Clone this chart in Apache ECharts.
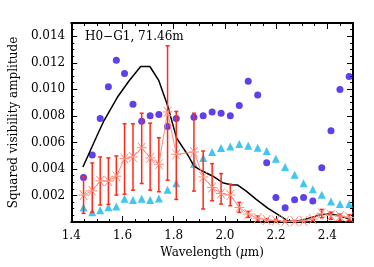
<!DOCTYPE html>
<html>
<head>
<meta charset="utf-8">
<script src="https://cdn.jsdelivr.net/npm/echarts@6/dist/echarts.min.js"></script>
<style>html,body{margin:0;padding:0;background:#fff}#c{width:374px;height:267px}</style>
</head>
<body>
<div id="c"></div>
<script>
// Channel wavelengths (micron)
var wavelengths = [1.448, 1.482, 1.513, 1.545, 1.576, 1.608, 1.641, 1.675, 1.708, 1.742, 1.776, 1.810, 1.879, 1.915, 1.950, 1.985, 2.021, 2.056, 2.091, 2.128, 2.163, 2.199, 2.235, 2.272, 2.307, 2.343, 2.378, 2.414, 2.449, 2.485];
// Blue circles
var circleVals = [0.00335, 0.00505, 0.00780, 0.0102, 0.0122, 0.0112, 0.00888, 0.0076, 0.0080, 0.0081, 0.0072, 0.0078, 0.0079, 0.0080, 0.0083, 0.0082, 0.0080, 0.00878, 0.0106, 0.00958, 0.00447, 0.00185, 0.00108, 0.00168, 0.00185, 0.00158, 0.00408, 0.00688, 0.00998, 0.01097];
// Cyan triangles
var triangleVals = [0.0011, 0.00073, 0.00088, 0.00112, 0.00117, 0.00175, 0.00165, 0.00175, 0.00165, 0.00178, 0.00243, 0.00293, 0.0044, 0.00482, 0.00527, 0.00557, 0.0057, 0.00587, 0.00575, 0.0056, 0.00535, 0.00477, 0.00415, 0.00357, 0.00292, 0.00247, 0.00205, 0.00155, 0.00135, 0.00135];
// Red measured values with error bars
var starVals = [0.00203, 0.00235, 0.0031, 0.00308, 0.00345, 0.00478, 0.0049, 0.0056, 0.00483, 0.00435, 0.0083, 0.0051, 0.00528, 0.0034, 0.0026, 0.00215, 0.00203, 0.0011, 0.0006, 0.00028, 0.00015, 0.00012, 0.00005, 0.00005, 0.00008, 0.00022, 0.00065, 0.0005, 0.00045, 0.00035];
var errHigh = [0.0034, 0.00445, 0.0049, 0.00483, 0.00498, 0.0074, 0.0074, 0.0082, 0.00745, 0.00635, 0.01328, 0.00833, 0.0082, 0.00535, 0.0044, 0.00365, 0.00285, 0.00148, 0.0008, 0.00045, 0.00025, 0.0002, 0.00012, 0.00012, 0.00015, 0.00035, 0.00095, 0.00075, 0.0006, 0.00055];
var errLow = [0.00065, 0.00073, 0.00128, 0.00133, 0.00203, 0.0021, 0.0024, 0.0029, 0.0024, 0.00228, 0.00315, 0.0017, 0.00233, 0.00098, 0.0016, 0.00135, 0.00123, 0.00073, 0.00035, 0.00015, 0.00005, 0.0, 0.0, 0.0, 0.0, 0.0001, 0.00032, 0.0002, 0.00012, 0.0001];
// Black model curve
var modelWl = [1.4455, 1.504, 1.528, 1.580, 1.626, 1.671, 1.707, 1.742, 1.776, 1.811, 1.855, 1.880, 1.910, 1.953, 1.991, 2.023, 2.050, 2.082, 2.121, 2.167, 2.218, 2.244, 2.269, 2.302, 2.340, 2.379, 2.414, 2.451, 2.490];
var modelVals = [0.00415, 0.00665, 0.00765, 0.0094, 0.01065, 0.01172, 0.01172, 0.01065, 0.00878, 0.00634, 0.00505, 0.0042, 0.00386, 0.00345, 0.00296, 0.00281, 0.00278, 0.00235, 0.00173, 0.00105, 0.00043, 0.0001, 0.00002, 0.00015, 0.00035, 0.00058, 0.0006, 0.00045, 0.0002];
// Axis ticks
var xTicks = [1.4, 1.6, 1.8, 2.0, 2.2, 2.4];
var yTicks = [0.002, 0.004, 0.006, 0.008, 0.010, 0.012, 0.014];

var FONT = 'DejaVu Serif';
function zip(a, b) { return a.map(function (v, i) { return [v, b[i]]; }); }
var errData = wavelengths.map(function (w, i) { return [w, errLow[i], errHigh[i]]; });

var chart = echarts.init(document.getElementById('c'), null, {renderer: 'canvas'});

function baseAxis(extra) {
  var o = {
    axisLine: {show: true, onZero: false, lineStyle: {color: '#000', width: 2}},
    axisTick: {show: true, inside: true, length: 6, lineStyle: {color: '#000', width: 1}},
    minorTick: {show: true, splitNumber: 4, length: 3, lineStyle: {color: '#000', width: 1}},
    splitLine: {show: false},
    minorSplitLine: {show: false}
  };
  for (var k in extra) o[k] = extra[k];
  return o;
}

var option = {
  animation: false,
  backgroundColor: '#fff',
  grid: {left: 70, top: 23, width: 283, height: 199, containLabel: false},
  title: {
    text: 'H0\u2212G1, 71.46m', left: 80, top: 26,
    textStyle: {fontFamily: FONT, fontSize: 12, fontWeight: 'normal', color: '#000'}
  },
  xAxis: [
    baseAxis({
      type: 'value', min: 1.4, max: 2.5, interval: 0.2, position: 'bottom',
      name: 'Wavelength ({i|\u03bc}m)', nameLocation: 'middle', nameGap: 22,
      nameTextStyle: {fontFamily: FONT, fontSize: 12, color: '#000',
        rich: {i: {fontFamily: FONT, fontStyle: 'italic', fontSize: 12, color: '#000'}}},
      axisLabel: {
        fontFamily: FONT, fontSize: 12, color: '#000', margin: 8,
        formatter: function (v) {
          for (var i = 0; i < xTicks.length; i++) if (Math.abs(v - xTicks[i]) < 1e-6) return xTicks[i].toFixed(1);
          return '';
        }
      }
    }),
    baseAxis({
      type: 'value', min: 1.4, max: 2.5, interval: 0.2, position: 'top',
      axisLabel: {show: false}
    })
  ],
  yAxis: [
    baseAxis({
      type: 'value', min: 0, max: 0.015, interval: 0.002, position: 'left',
      name: 'Squared visibility amplitude', nameLocation: 'middle', nameGap: 43,
      nameTextStyle: {fontFamily: FONT, fontSize: 12, color: '#000'},
      axisLabel: {
        fontFamily: FONT, fontSize: 12, color: '#000', margin: 6,
        formatter: function (v) {
          for (var i = 0; i < yTicks.length; i++) if (Math.abs(v - yTicks[i]) < 1e-9) return yTicks[i].toFixed(3);
          return '';
        }
      }
    }),
    baseAxis({
      type: 'value', min: 0, max: 0.015, interval: 0.002, position: 'right',
      axisLabel: {show: false}
    })
  ],
  series: [
    {
      type: 'scatter', name: 'circles', data: zip(wavelengths, circleVals),
      symbol: 'circle', symbolSize: 7, itemStyle: {color: '#3a0fe6'}, z: 2
    },
    {
      type: 'scatter', name: 'triangles', data: zip(wavelengths, triangleVals),
      symbol: 'triangle', symbolSize: 8, itemStyle: {color: '#12b6ee'}, z: 2
    },
    {
      type: 'line', name: 'model', data: zip(modelWl, modelVals),
      showSymbol: false, symbol: 'none', lineStyle: {color: '#000', width: 1.5}, z: 3
    },
    {
      type: 'custom', name: 'errors', data: errData, z: 4,
      renderItem: function (params, api) {
        var x = api.value(0);
        var lo = api.coord([x, api.value(1)]);
        var hi = api.coord([x, api.value(2)]);
        var c = 2;
        var st = {stroke: '#ff2a1a', lineWidth: 1.5};
        return {
          type: 'group',
          children: [
            {type: 'line', shape: {x1: lo[0], y1: lo[1], x2: hi[0], y2: hi[1]}, style: st},
            {type: 'line', shape: {x1: hi[0] - c, y1: hi[1], x2: hi[0] + c, y2: hi[1]}, style: st},
            {type: 'line', shape: {x1: lo[0] - c, y1: lo[1], x2: lo[0] + c, y2: lo[1]}, style: st}
          ]
        };
      }
    },
    {
      type: 'line', name: 'stars', data: zip(wavelengths, starVals), z: 5,
      symbol: 'path://M-1,0L1,0M-0.75,-0.75L0.75,0.75M-0.75,0.75L0.75,-0.75',
      symbolSize: 10, showSymbol: true,
      itemStyle: {color: 'rgba(0,0,0,0)', borderColor: '#ff8a78', borderWidth: 1},
      lineStyle: {color: '#ff8a78', width: 1}
    }
  ]
};
chart.setOption(option);
</script>
</body>
</html>
